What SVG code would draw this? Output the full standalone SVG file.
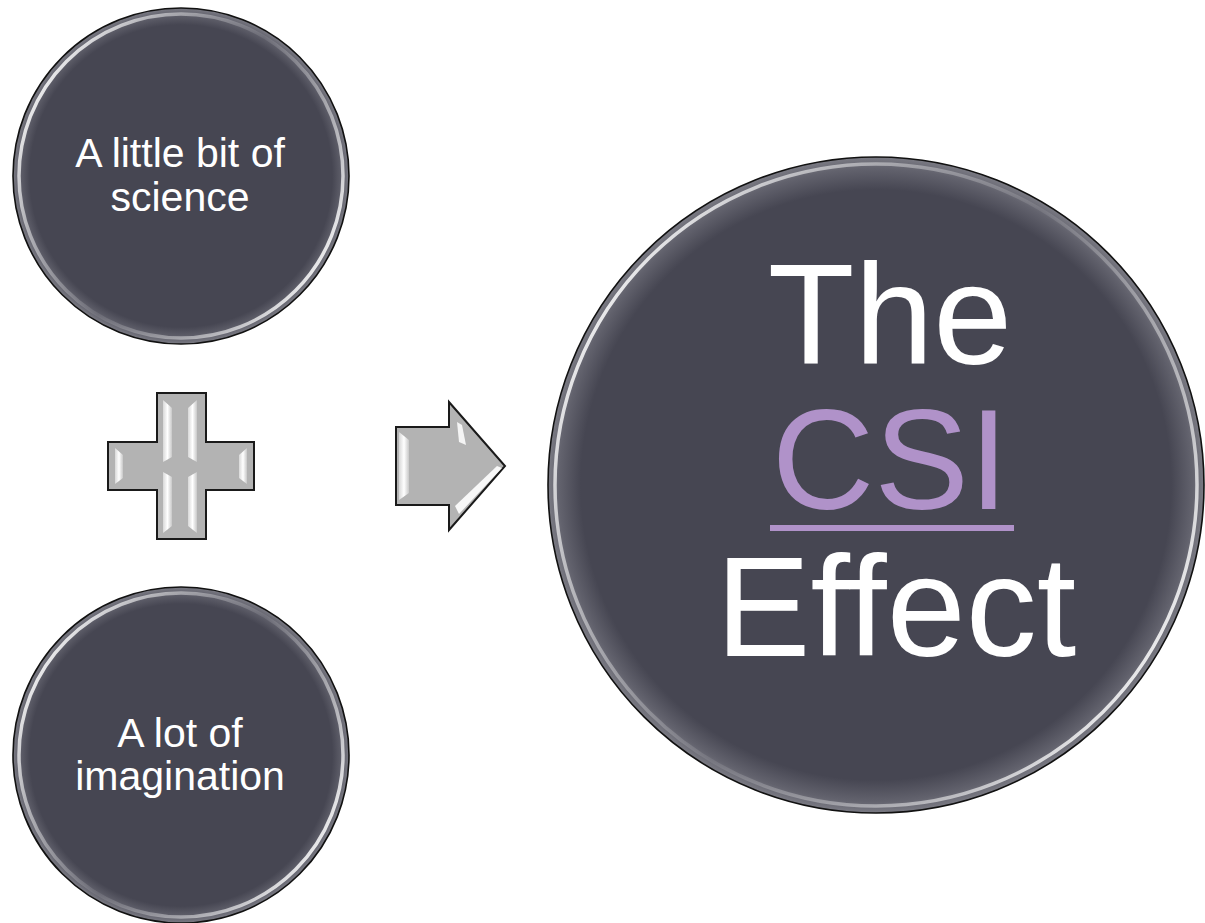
<svg xmlns="http://www.w3.org/2000/svg" width="1205" height="923" viewBox="0 0 1205 923">
<defs>
<style>
.disc{fill:url(#discFill);stroke:#111;stroke-width:1.6}
.ring{fill:none;stroke:url(#ringGrad);stroke-width:3.5}
.lbl{font-family:"Liberation Sans",Arial,sans-serif;fill:#fff;text-anchor:middle}
.shape{fill:#b3b3b3;stroke:#1a1a1a;stroke-width:2;stroke-linejoin:miter}
.hl{fill:url(#hlGrad)}
</style>
<radialGradient id="discFill" cx="0.5" cy="0.5" r="0.5">
<stop offset="0" stop-color="#464652"/>
<stop offset="0.9" stop-color="#464652"/>
<stop offset="0.965" stop-color="#62626d"/>
<stop offset="1" stop-color="#7a7a83"/>
</radialGradient>
<linearGradient id="ringGrad" x1="0" y1="0.2" x2="1" y2="0.8">
<stop offset="0" stop-color="#ffffff" stop-opacity="1"/>
<stop offset="0.2" stop-color="#ffffff" stop-opacity="0.55"/>
<stop offset="0.5" stop-color="#ffffff" stop-opacity="0.08"/>
<stop offset="0.8" stop-color="#ffffff" stop-opacity="0.55"/>
<stop offset="1" stop-color="#ffffff" stop-opacity="1"/>
</linearGradient>
<linearGradient id="hlGrad" x1="0" y1="0" x2="1" y2="0">
<stop offset="0" stop-color="#d8d8d8"/>
<stop offset="0.5" stop-color="#ffffff"/>
<stop offset="1" stop-color="#c8c8c8"/>
</linearGradient>
</defs>
<rect width="1205" height="923" fill="#fff"/>

<g id="node-science">
<circle class="disc" cx="181" cy="176" r="168"/>
<circle class="ring" cx="181" cy="176" r="162"/>
<text class="lbl" font-size="41" x="180" y="167">A little bit of</text>
<text class="lbl" font-size="41" x="180" y="211">science</text>
</g>

<g id="node-imagination">
<circle class="disc" cx="181" cy="755" r="168"/>
<circle class="ring" cx="181" cy="755" r="162"/>
<text class="lbl" font-size="41" x="180" y="747">A lot of</text>
<text class="lbl" font-size="41" x="180" y="790">imagination</text>
</g>

<g id="node-csi">
<circle class="disc" cx="876" cy="485" r="328"/>
<circle class="ring" cx="876" cy="485" r="321" stroke-width="4"/>
<text class="lbl" font-size="142" x="890" y="364">The</text>
<text class="lbl" font-size="142" x="890" y="509" style="fill:#b092c9">CSI</text>
<rect x="770" y="525" width="244" height="6" fill="#b092c9"/>
<text class="lbl" font-size="142" x="896" y="656">Effect</text>
</g>

<g id="connectors">
<g id="plus">
<polygon class="shape" points="157,393 206,393 206,442 254,442 254,490 206,490 206,539 157,539 157,490 108,490 108,442 157,442"/>
<polygon class="hl" points="163,400 172,408 172,457 163,462"/>
<polygon class="hl" points="188,408 197,400 197,462 188,457"/>
<polygon class="hl" points="163,472 172,477 172,526 163,533"/>
<polygon class="hl" points="188,477 197,472 197,533 188,526"/>
<polygon class="hl" points="115,448 123,455 123,478 115,484"/>
<polygon class="hl" points="239,455 247,448 247,484 239,478"/>
</g>
<g id="arrow">
<polygon class="shape" points="396,427 449,427 449,402 505,466 449,530 449,505 396,505"/>
<polygon class="hl" points="399,432 409,440 409,493 399,500"/>
<polygon fill="#ffffff" opacity="0.85" points="457,422 462,425 466,445 459,442"/>
<polygon fill="#ffffff" opacity="0.9" points="497,466 502,468 459,514 455,506"/>
</g>
</g>
</svg>
